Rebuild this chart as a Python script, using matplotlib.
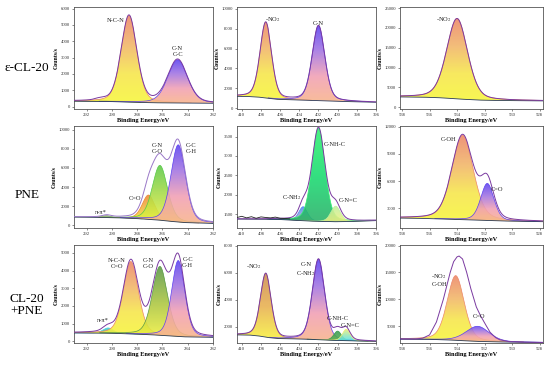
import numpy as np
import matplotlib
matplotlib.use("Agg")
import matplotlib.pyplot as plt
from matplotlib.colors import LinearSegmentedColormap

plt.rcParams['font.family'] = ['Liberation Serif', 'DejaVu Serif']
plt.rcParams['mathtext.fontset'] = 'stix'

# ---------------- data ----------------
row_names = ["ε-CL-20", "PNE", "CL-20\n+PNE"]

# Panel A: ε-CL-20 C1s
a_centers = [290.9, 288.65, 284.8]
a_heights = [110, 5300, 2650]
a_sigmas = [0.4, 0.62, 0.78]
a_labels = ["", "N-C-N", "C-N\nC-C"]
a_base_x = [293, 291, 289.5, 288, 287, 286, 284, 282]
a_base_y = [330, 310, 300, 260, 235, 225, 210, 200]

# Panel B: ε-CL-20 N1s
b_centers = [407.5, 402.0]
b_heights = [7650, 7570]
b_sigmas = [0.6, 0.66]
b_labels = ["-NO$_2$", "C-N"]
b_base_x = [410.5, 409, 408, 407, 406, 404, 402, 400, 398, 396]
b_base_y = [1180, 1150, 1080, 950, 850, 800, 750, 680, 620, 580]

# Panel C: ε-CL-20 O1s
c_centers = [534.0]
c_heights = [20300]
c_sigmas = [0.76]
c_labels = ["-NO$_2$"]
c_base_x = [538.15, 536, 535, 534, 533, 532, 530, 527.75]
c_base_y = [2600, 2500, 2350, 2100, 1900, 1750, 1650, 1600]

# Panel D: PNE C1s
d_centers = [290.4, 287.1, 286.2, 284.75]
d_heights = [200, 2550, 5750, 8100]
d_sigmas = [0.35, 0.5, 0.6, 0.58]
d_labels = ["π-π*", "C=O", "C-N\nC-O", "C-C\nC-H"]
d_base_x = [293, 291, 289, 287.5, 286, 285, 284, 282]
d_base_y = [850, 820, 750, 650, 500, 350, 250, 180]

# Panel E: PNE N1s
e_centers = [403.6, 402.0, 400.2]
e_heights = [360, 2400, 400]
e_sigmas = [0.45, 0.68, 0.5]
e_labels = ["C-NH$_2$", "C-NH-C", "C-N=C"]
e_base_x = [410.5, 406, 404, 402, 400, 398, 396]
e_base_y = [1380, 1370, 1340, 1320, 1310, 1320, 1340]
e_raw_x = [410.5, 410.0, 409.5, 409.0, 408.5, 408.0, 407.5, 407.0, 406.5, 406.0, 405.5, 405.0]
e_raw_y = [1420, 1450, 1410, 1440, 1400, 1435, 1420, 1410, 1430, 1400, 1395, 1385]

# Panel F: PNE O1s
f_centers = [533.6, 531.8]
f_heights = [9350, 4100]
f_sigmas = [0.78, 0.48]
f_labels = ["C-OH", "C=O"]
f_base_x = [538.15, 536, 535, 534, 533, 532, 531, 530, 527.75]
f_base_y = [1900, 1850, 1800, 1750, 1700, 1650, 1600, 1550, 1500]

# Panel G: CL-20+PNE C1s
g_centers = [290.3, 288.5, 286.2, 284.75]
g_heights = [300, 4100, 3900, 4300]
g_sigmas = [0.4, 0.6, 0.6, 0.52]
g_labels = ["π-π*", "N-C-N\nC=O", "C-N\nC-O", "C-C\nC-H"]
g_base_x = [293, 291, 290, 289, 288, 287, 286, 285, 284, 282]
g_base_y = [470, 460, 450, 430, 400, 370, 330, 280, 240, 220]

# Panel H: CL-20+PNE N1s
h_centers = [407.5, 402.0, 400.0, 399.1]
h_heights = [4700, 5950, 700, 850]
h_sigmas = [0.56, 0.64, 0.4, 0.4]
h_labels = ["-NO$_2$", "C-N\nC-NH$_2$", "C-NH-C", "C-N=C"]
h_base_x = [410.5, 409, 408, 407, 406, 404, 402, 400, 398, 396]
h_base_y = [1400, 1380, 1300, 1180, 1120, 1100, 1050, 980, 950, 920]

# Panel I: CL-20+PNE O1s
i_centers = [534.1, 532.5]
i_heights = [12000, 2800]
i_sigmas = [0.62, 0.85]
i_labels = ["-NO$_2$\nC-OH", "C=O"]
i_base_x = [538.15, 536, 535, 534, 533, 532, 530, 527.75]
i_base_y = [2620, 2580, 2500, 2400, 2250, 2150, 2050, 2000]
i_env_x = [538.15, 537.0, 536.5, 536.0, 535.5, 535.0, 534.5, 534.25, 534.0, 533.85,
           533.6, 533.3, 533.0, 532.6, 532.3, 531.9, 531.6, 531.2, 530.9, 530.2, 529.0, 527.75]
i_env_y = [2650, 2650, 2800, 3400, 5800, 10000, 15000, 17000, 17900, 18050,
           17500, 15000, 12000, 8600, 7000, 5200, 3900, 2900, 2500, 2150, 2050, 2000]

# label positions (x, y) in data units
a_lpos = [None, (289.7, 5290), (284.8, 3370)]
b_lpos = [(406.8, 8980), (402.0, 8580)]
c_lpos = [(534.95, 22250)]
d_lpos = [(290.9, 1350), (288.2, 2780), (286.4, 8080), (283.75, 8080)]
e_lpos = [(404.8, 1930), (400.3, 3290), (398.9, 1860)]
f_lpos = [(534.6, 10630), (531.1, 5080)]
g_lpos = [(290.7, 1200), (289.6, 4400), (287.15, 4400), (284.0, 4450)]
h_lpos = [(408.8, 6430), (403.3, 6200), (400.0, 2580), (398.7, 2080)]
i_lpos = [(535.3, 13750), (532.4, 6820)]

# ---------------- styles ----------------
WARM = ['#f8f63a', '#f6e64a', '#f2b468', '#ec8668']
COOL = ['#f8b48c', '#f2a0b4', '#a274e2', '#5a40f0']
GREENY = ['#eef040', '#a8dc48', '#58c848']
ORANGE = ['#f2ee40', '#f2b840', '#f08434']
BGREEN = ['#28b068', '#18dc70', '#30f070']
BLUEO = ['#e8b070', '#8aa0e0', '#4a88f0']
LIME = ['#f0f080', '#c0f0a0']
OLIVE = ['#f0f040', '#a8c440', '#5a9848']
CYAN = ['#40a060', '#48d0e0']
DGREEN = ['#50b050', '#3a9a50']
CYY = ['#50e0f0', '#f4f070']
BROWN = ['#f8f040', '#e8b050', '#cc8c50']
GRAY = ['#b0c090', '#90a880']

panels = [
    dict(c=a_centers, h=a_heights, s=a_sigmas, lab=a_labels, lp=a_lpos, bx=a_base_x, by=a_base_y,
         xl=(293, 282), yl=(-150, 6100), yt=np.arange(0, 6001, 1000), xt=np.arange(292, 281, -2),
         cols=[GRAY, WARM, COOL]),
    dict(c=b_centers, h=b_heights, s=b_sigmas, lab=b_labels, lp=b_lpos, bx=b_base_x, by=b_base_y,
         xl=(410.5, 396), yl=(-100, 10200), yt=np.arange(0, 10001, 2000), xt=np.arange(410, 395, -2),
         cols=[WARM, COOL]),
    dict(c=c_centers, h=c_heights, s=c_sigmas, lab=c_labels, lp=c_lpos, bx=c_base_x, by=c_base_y,
         xl=(538.15, 527.75), yl=(-450, 25300), yt=np.arange(0, 25001, 5000), xt=np.arange(538, 527, -2),
         cols=[WARM]),
    dict(c=d_centers, h=d_heights, s=d_sigmas, lab=d_labels, lp=d_lpos, bx=d_base_x, by=d_base_y,
         xl=(293, 282), yl=(-300, 10400), yt=np.arange(0, 10001, 2000), xt=np.arange(292, 281, -2),
         cols=[GRAY, ORANGE, GREENY, COOL], env='#9a78c8'),
    dict(c=e_centers, h=e_heights, s=e_sigmas, lab=e_labels, lp=e_lpos, bx=e_base_x, by=e_base_y,
         xl=(410.5, 396), yl=(1150, 3770), yt=np.arange(1500, 3501, 500), xt=np.arange(410, 395, -2),
         cols=[BLUEO, BGREEN, LIME], raw=(e_raw_x, e_raw_y)),
    dict(c=f_centers, h=f_heights, s=f_sigmas, lab=f_labels, lp=f_lpos, bx=f_base_x, by=f_base_y,
         xl=(538.15, 527.75), yl=(800, 12100), yt=np.arange(3000, 12001, 3000), xt=np.arange(538, 527, -2),
         cols=[WARM, COOL]),
    dict(c=g_centers, h=g_heights, s=g_sigmas, lab=g_labels, lp=g_lpos, bx=g_base_x, by=g_base_y,
         xl=(293, 282), yl=(-100, 5450), yt=np.arange(0, 5001, 1000), xt=np.arange(292, 281, -2),
         cols=[CYAN, WARM, OLIVE, COOL]),
    dict(c=h_centers, h=h_heights, s=h_sigmas, lab=h_labels, lp=h_lpos, bx=h_base_x, by=h_base_y,
         xl=(410.5, 396), yl=(800, 8050), yt=np.arange(2000, 8001, 2000), xt=np.arange(410, 395, -2),
         cols=[BROWN, COOL, DGREEN, CYY]),
    dict(c=i_centers, h=i_heights, s=i_sigmas, lab=i_labels, lp=i_lpos, bx=i_base_x, by=i_base_y,
         xl=(538.15, 527.75), yl=(1900, 20100), yt=np.arange(5000, 20001, 5000), xt=np.arange(538, 527, -2),
         cols=[WARM, COOL], envpts=(i_env_x, i_env_y)),
]

ETA = 0.28  # Gaussian-Lorentzian mixing of the fitted components


def peak(x, c, h, s):
    g = np.exp(-(x - c) ** 2 / (2 * s ** 2))
    gam = 1.1774 * s
    l = 1.0 / (1.0 + ((x - c) / gam) ** 2)
    return h * ((1 - ETA) * g + ETA * l)


def gfill(ax, x, lo, hi, colors, z, alpha=0.88):
    poly = ax.fill_between(x, lo, hi, facecolor='none', edgecolor='none', zorder=z)
    cmap = LinearSegmentedColormap.from_list('g', colors)
    grad = np.linspace(0, 1, 256)[:, None]
    im = ax.imshow(grad, cmap=cmap, origin='lower', aspect='auto',
                   extent=[x.min(), x.max(), lo.min(), hi.max()], alpha=alpha,
                   zorder=z, interpolation='bilinear')
    im.set_clip_path(poly.get_paths()[0], transform=ax.transData)


fig = plt.figure(figsize=(5.5, 3.7), dpi=100)
W, H = 550.0, 370.0
col_x = [(74, 213), (237, 376), (400, 543)]
row_y = [(7, 109), (126, 228), (245, 343)]

for idx, p in enumerate(panels):
    r, cidx = divmod(idx, 3)
    x0, x1 = col_x[cidx]
    y0, y1 = row_y[r]
    ax = fig.add_axes([x0 / W, 1 - y1 / H, (x1 - x0) / W, (y1 - y0) / H])
    x = np.linspace(min(p['xl']), max(p['xl']), 900)
    base = np.interp(x, p['bx'][::-1], p['by'][::-1]) if p['bx'][0] > p['bx'][-1] else np.interp(x, p['bx'], p['by'])
    total = base.copy()
    for k, (cc, hh, ss) in enumerate(zip(p['c'], p['h'], p['s'])):
        comp = peak(x, cc, hh, ss)
        total += comp
        top = base + comp
        mask = comp > hh * 0.006
        gfill(ax, x[mask], base[mask], top[mask], p['cols'][k], z=2 + k)
        edge = LinearSegmentedColormap.from_list('e', p['cols'][k])(0.99)
        ax.plot(x[mask], top[mask], color=edge, lw=0.5, zorder=2.5 + k)
    ax.plot(x, base, color='#2a3a5a', lw=0.6, zorder=8)
    envc = p.get('env', '#7a3aa0')
    if 'envpts' in p:
        ax.plot(p['envpts'][0], p['envpts'][1], color=envc, lw=0.7, zorder=9)
    else:
        ax.plot(x, total, color=envc, lw=0.7, zorder=9)
    if 'raw' in p:
        ax.plot(p['raw'][0], p['raw'][1], color='#222222', lw=0.6, zorder=10)
    for lab, lp in zip(p['lab'], p['lp']):
        if lab and lp is not None:
            ax.text(lp[0], lp[1], lab, fontsize=4.6, ha='center', va='center',
                    color='#222222', zorder=12, linespacing=1.3)
    ax.set_xlim(*p['xl'])
    ax.set_ylim(*p['yl'])
    ax.set_xticks(p['xt'])
    ax.set_yticks(p['yt'])
    ax.tick_params(labelsize=3.4, length=1.6, width=0.4, pad=1.2, colors='#333333')
    for sp in ax.spines.values():
        sp.set_linewidth(0.6)
        sp.set_color('#555555')
    ax.set_ylabel('Counts/s', fontsize=4.2, fontweight='bold', labelpad=1.5)
    ax.set_xlabel('Binding Energy/eV', fontsize=4.6, fontweight='bold', labelpad=1.0)

row_label_y = [68, 195, 305]
for name, yy in zip(row_names, row_label_y):
    fig.text(27 / W, 1 - yy / H, name, fontsize=9.5, ha='center', va='center', linespacing=1.1)

fig.savefig('out.png', dpi=100)
